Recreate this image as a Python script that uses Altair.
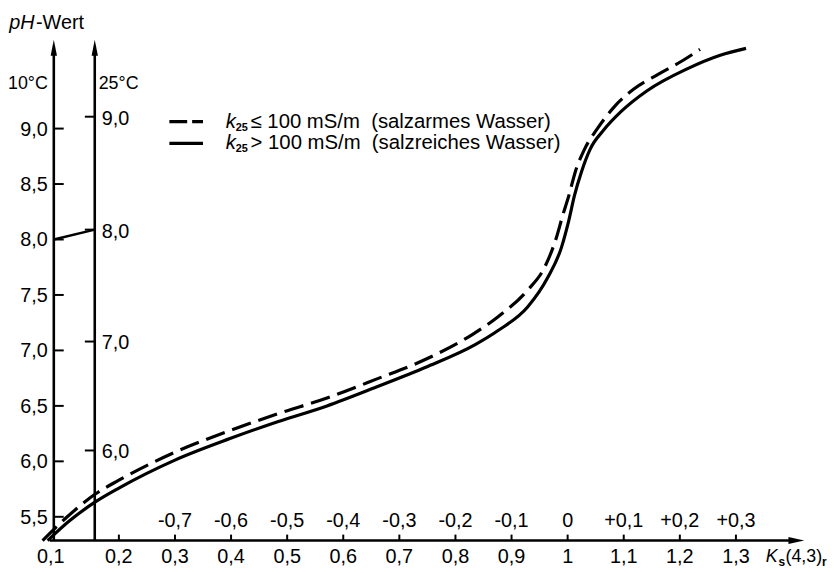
import altair as alt
import pandas as pd

# ---------------- data ----------------
# solid curve: k25 > 100 mS/m (salzreiches Wasser)
ks_solid = [0.073, 0.112, 0.158, 0.200, 0.299, 0.398, 0.483, 0.571, 0.659, 0.747, 0.836,
            0.876, 0.929, 0.965, 0.989, 1.002, 1.012, 1.025, 1.040, 1.065, 1.095,
            1.141, 1.212, 1.272, 1.318]
ph_solid = [5.286, 5.464, 5.634, 5.759, 6.009, 6.205, 6.357, 6.500, 6.670, 6.848, 7.054,
            7.179, 7.393, 7.661, 7.929, 8.170, 8.393, 8.616, 8.813, 8.991, 9.152,
            9.339, 9.536, 9.661, 9.723]
# dashed curve: k25 <= 100 mS/m (salzarmes Wasser)
ks_dashed = [0.064, 0.108, 0.158, 0.200, 0.299, 0.398, 0.483, 0.571, 0.659, 0.747, 0.830,
             0.876, 0.929, 0.959, 0.980, 0.991, 1.002, 1.014, 1.030, 1.053, 1.083,
             1.118, 1.162, 1.206, 1.236]
ph_dashed = [5.286, 5.500, 5.705, 5.830, 6.080, 6.277, 6.429, 6.571, 6.741, 6.920, 7.143,
             7.304, 7.545, 7.750, 8.018, 8.214, 8.393, 8.616, 8.813, 9.000, 9.196,
             9.357, 9.491, 9.616, 9.714]

ph10_ticks = [5.5, 6.0, 6.5, 7.0, 7.5, 8.0, 8.5, 9.0]
ph10_labels = ["5,5", "6,0", "6,5", "7,0", "7,5", "8,0", "8,5", "9,0"]
ph25_labels = ["6,0", "7,0", "8,0", "9,0"]
ph25_pos = [6.098, 7.080, 8.089, 9.107]          # 25 °C values on the 10 °C scale
ks_ticks = [0.2, 0.3, 0.4, 0.5, 0.6, 0.7, 0.8, 0.9, 1.0, 1.1, 1.2, 1.3]
ks_labels = ["0,2", "0,3", "0,4", "0,5", "0,6", "0,7", "0,8", "0,9", "1", "1,1", "1,2", "1,3"]
dks_ticks = [0.3, 0.4, 0.5, 0.6, 0.7, 0.8, 0.9, 1.0, 1.1, 1.2, 1.3]
dks_labels = ["-0,7", "-0,6", "-0,5", "-0,4", "-0,3", "-0,2", "-0,1", "0", "+0,1", "+0,2", "+0,3"]
link_ph = [8.0, 8.089]
legend_texts = ["\u2264 100 mS/m\u00a0 (salzarmes Wasser)", "> 100 mS/m\u00a0 (salzreiches Wasser)"]

# ---------------- layout helpers ----------------
FONT = "Liberation Sans"
TICK_FS = 20
X_DOM = [0.02, 1.4536]
Y_DOM = [5.0893, 10.0625]
PX = 1 / 566.4     # one pixel in x data units
PY = 1 / 112.0     # one pixel in y data units
AX10 = 0.084
AX25 = 0.157
Y0 = 5.286
Y_TOP = 9.80
X_END = 1.4218

xs = alt.Scale(domain=X_DOM, nice=False, zero=False)
ys = alt.Scale(domain=Y_DOM, nice=False, zero=False)


def X(f="x"):
    return alt.X(f, type="quantitative", scale=xs, axis=None)


def Y(f="y"):
    return alt.Y(f, type="quantitative", scale=ys, axis=None)


def txt(df, **kw):
    base = dict(font=FONT, fontSize=TICK_FS, color="black", baseline="middle")
    base.update(kw)
    return alt.Chart(df).mark_text(**base).encode(x=X(), y=Y(), text="t:N")


layers = []

# curves
layers.append(alt.Chart(pd.DataFrame({"x": ks_dashed, "y": ph_dashed})).mark_line(
    color="black", strokeWidth=3.2, strokeDash=[20, 8], interpolate="monotone", strokeCap="butt"
).encode(x=X(), y=Y()))
layers.append(alt.Chart(pd.DataFrame({"x": ks_solid, "y": ph_solid})).mark_line(
    color="black", strokeWidth=3.2, interpolate="monotone"
).encode(x=X(), y=Y()))

# vertical axes
layers.append(alt.Chart(pd.DataFrame({"x": [AX10, AX25], "y": [Y0, Y0],
                                      "y2": [Y_TOP - 10 * PY] * 2})).mark_rule(
    color="black", strokeWidth=2.6).encode(x=X(), y=Y(), y2="y2:Q"))
layers.append(alt.Chart(pd.DataFrame({"x": [AX10, AX25], "y": [Y_TOP - 8 * PY] * 2})).mark_point(
    shape="M0,-1L0.4,1L-0.4,1Z", size=256, filled=True, opacity=1, color="black", strokeWidth=0
).encode(x=X(), y=Y()))

# horizontal axis
layers.append(alt.Chart(pd.DataFrame({"x": [AX10 - 4 * PX], "x2": [X_END - 10 * PX], "y": [Y0]})).mark_rule(
    color="black", strokeWidth=2.4).encode(x=X(), x2="x2:Q", y=Y()))
layers.append(alt.Chart(pd.DataFrame({"x": [X_END - 8 * PX], "y": [Y0]})).mark_point(
    shape="M1,0L-1,-0.45L-1,0.45Z", size=256, filled=True, opacity=1, color="black", strokeWidth=0
).encode(x=X(), y=Y()))

# ticks
layers.append(alt.Chart(pd.DataFrame({"y": ph10_ticks, "x": [AX10] * len(ph10_ticks),
                                      "x2": [AX10 + 10 * PX] * len(ph10_ticks)})).mark_rule(
    color="black", strokeWidth=2).encode(x=X(), x2="x2:Q", y=Y()))
layers.append(alt.Chart(pd.DataFrame({"y": ph25_pos, "x": [AX25 - 10 * PX] * len(ph25_pos),
                                      "x2": [AX25] * len(ph25_pos)})).mark_rule(
    color="black", strokeWidth=2).encode(x=X(), x2="x2:Q", y=Y()))
layers.append(alt.Chart(pd.DataFrame({"x": ks_ticks, "y": [Y0] * len(ks_ticks),
                                      "y2": [Y0 + 6 * PY] * len(ks_ticks)})).mark_rule(
    color="black", strokeWidth=2).encode(x=X(), y=Y(), y2="y2:Q"))

# link between 8,0 (10 °C) and 8,0 (25 °C)
layers.append(alt.Chart(pd.DataFrame({"x": [AX10, AX25], "y": link_ph})).mark_line(
    color="black", strokeWidth=2.4).encode(x=X(), y=Y()))

# axis labels
layers.append(txt(pd.DataFrame({"x": [AX10] * len(ph10_ticks), "y": ph10_ticks, "t": ph10_labels}),
                  align="right", dx=-6, dy=1))
layers.append(txt(pd.DataFrame({"x": [AX10], "y": [9.40], "t": ["10°C"]}), align="right", dx=-6,
                  fontSize=18))
layers.append(txt(pd.DataFrame({"x": [AX25] * len(ph25_pos), "y": ph25_pos, "t": ph25_labels}),
                  align="left", dx=7, dy=2))
layers.append(txt(pd.DataFrame({"x": [AX25], "y": [9.40], "t": ["25°C"]}), align="left", dx=4,
                  fontSize=18))
layers.append(txt(pd.DataFrame({"x": ks_ticks, "y": [5.134] * len(ks_ticks), "t": ks_labels}),
                  align="center"))
layers.append(txt(pd.DataFrame({"x": [AX10], "y": [5.134], "t": ["0,1"]}), align="center", dx=-3))
layers.append(txt(pd.DataFrame({"x": dks_ticks, "y": [5.464] * len(dks_ticks), "t": dks_labels}),
                  align="center"))

# y title
layers.append(txt(pd.DataFrame({"x": [AX10], "y": [9.955], "t": ["pH"]}), align="left", dx=-45,
                  fontSize=20, fontStyle="italic"))
layers.append(txt(pd.DataFrame({"x": [AX10], "y": [9.955], "t": ["-Wert"]}), align="left", dx=-18,
                  fontSize=20))

# x title  K_s(4,3)_r
layers.append(txt(pd.DataFrame({"x": [1.3], "y": [5.134], "t": ["K"]}), align="left", dx=30,
                  fontSize=18, fontStyle="italic"))
layers.append(txt(pd.DataFrame({"x": [1.3], "y": [5.134], "t": ["s"]}), align="left", dx=43, dy=5,
                  fontSize=12, fontWeight="bold"))
layers.append(txt(pd.DataFrame({"x": [1.3], "y": [5.134], "t": ["(4,3)"]}), align="left", dx=50,
                  fontSize=18))
layers.append(txt(pd.DataFrame({"x": [1.3], "y": [5.134], "t": ["r"]}), align="left", dx=87, dy=5,
                  fontSize=12, fontWeight="bold"))

# legend
LEG_Y = [9.0625, 8.866]
layers.append(alt.Chart(pd.DataFrame({"x": [0.290], "x2": [0.350], "y": [LEG_Y[0]]})).mark_rule(
    color="black", strokeWidth=3.2, strokeDash=[18, 5]).encode(x=X(), x2="x2:Q", y=Y()))
layers.append(alt.Chart(pd.DataFrame({"x": [0.290], "x2": [0.350], "y": [LEG_Y[1]]})).mark_rule(
    color="black", strokeWidth=3.2).encode(x=X(), x2="x2:Q", y=Y()))
layers.append(txt(pd.DataFrame({"x": [0.3907] * 2, "y": LEG_Y, "t": ["k", "k"]}), align="left",
                  fontSize=20.5, fontStyle="italic"))
layers.append(txt(pd.DataFrame({"x": [0.4083] * 2, "y": LEG_Y, "t": ["25", "25"]}), align="left",
                  fontSize=11, fontWeight="bold", dy=6))
layers.append(txt(pd.DataFrame({"x": [0.4348] * 2, "y": LEG_Y, "t": legend_texts}), align="left",
                  fontSize=20.5))

chart = alt.layer(*layers).properties(
    width=812, height=557,
    autosize=alt.AutoSizeParams(type="none"),
    padding={"left": 10, "top": 0, "right": 10, "bottom": 8},
    background="white",
).configure_view(stroke=None)

chart.save("out.html", embed_options={"renderer": "svg", "actions": False})
